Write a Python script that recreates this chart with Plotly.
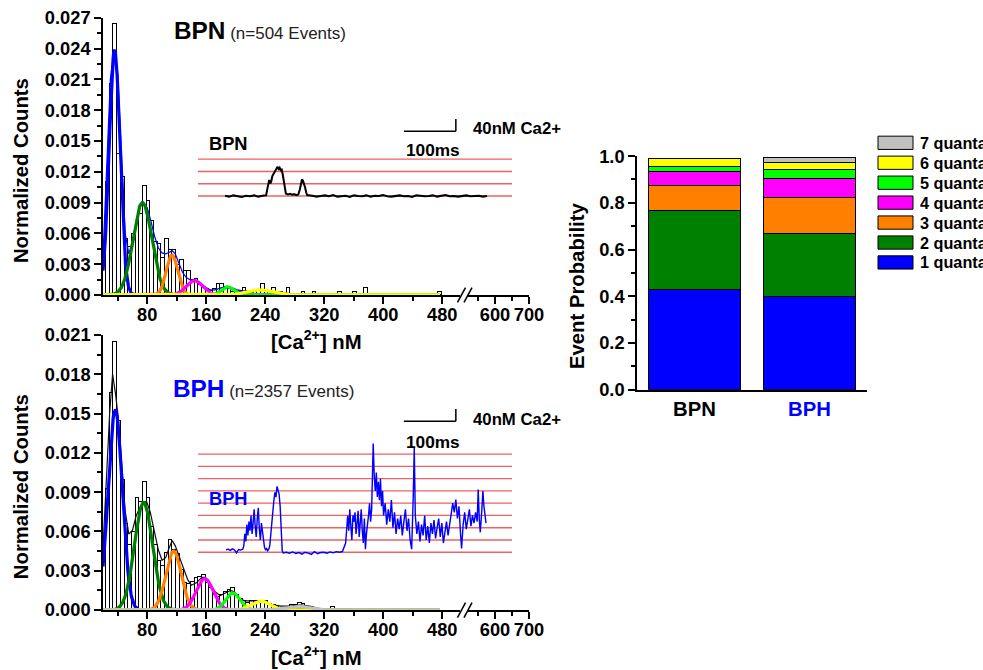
import numpy as np
import plotly.graph_objects as go

# Layout is designed on a 983 x 670 pixel grid; the figure itself is rendered a
# little larger (FIG_SCALE) and everything is placed in paper fractions.
W, H = 983, 670
FIG_SCALE = 1.0 / 0.985
FIG_W, FIG_H = round(W * FIG_SCALE), round(H * FIG_SCALE)
Y_STRETCH, Y_OFFSET = 1.0137, 10.3  # vertical grid correction for the page offset
FONT = "Liberation Sans, Arial, sans-serif"


def fx(x):
    """grid column -> paper x"""
    return x / W


def fy(y):
    """grid row -> paper y"""
    return 1 - (Y_STRETCH * y - Y_OFFSET) / H


def fs(size):
    """font / line size on the design grid -> rendered size"""
    return size * FIG_SCALE


# ---------------- amplitude histograms (normalized counts, 5 nM bins) ----------------
BIN_START = 21.0
BIN_WIDTH = 5.0

BPN_COUNTS = [
    0.0038, 0.0111, 0.0206, 0.0264, 0.0138, 0.0115, 0.0055, 0.0047, 0.0060, 0.0071,
    0.0079, 0.0107, 0.0092, 0.0073, 0.0052, 0.0050, 0.0037, 0.0055, 0.0044, 0.0044,
    0.0030, 0.0035, 0.0024, 0.0024, 0.0015, 0.0016, 0.0010, 0.0007, 0.0006, 0.0004,
    0.0006, 0.0011, 0.0011, 0.0008, 0.0006, 0.0003, 0.0004, 0.0003, 0.0007, 0.0003,
    0.0002, 0.0003, 0.0004, 0.0011, 0.0004, 0.0003, 0.0007, 0.0000, 0.0003, 0.0000,
    0.0007, 0.0000, 0.0000, 0.0000, 0.0003, 0.0000, 0.0000, 0.0003, 0.0000, 0.0000,
    0.0000, 0.0000, 0.0000, 0.0000, 0.0003, 0.0000, 0.0000, 0.0000, 0.0003, 0.0000,
    0.0000, 0.0007, 0.0000, 0.0000, 0.0000, 0.0000, 0.0000, 0.0000, 0.0000, 0.0000,
    0.0000, 0.0000, 0.0000, 0.0000, 0.0000, 0.0000, 0.0000, 0.0000, 0.0000, 0.0000,
    0.0000, 0.0003,
]

BPH_COUNTS = [
    0.0045, 0.0093, 0.0166, 0.0205, 0.0145, 0.0100, 0.0066, 0.0050, 0.0060, 0.0086,
    0.0083, 0.0098, 0.0086, 0.0064, 0.0050, 0.0038, 0.0034, 0.0044, 0.0054, 0.0046,
    0.0043, 0.0031, 0.0021, 0.0020, 0.0022, 0.0025, 0.0026, 0.0027, 0.0021, 0.0017,
    0.0012, 0.0010, 0.0012, 0.0014, 0.0016, 0.0017, 0.0012, 0.0009, 0.0007, 0.0006,
    0.0007, 0.0007, 0.0007, 0.0007, 0.0007, 0.0005, 0.0004, 0.0003, 0.0002, 0.0002,
    0.0003, 0.0004, 0.0004, 0.0006, 0.0005, 0.0003, 0.0003, 0.0002, 0.0001, 0.0001,
    0.0000, 0.0001, 0.0003, 0.0001, 0.0000, 0.0001, 0.0001, 0.0000, 0.0000, 0.0000,
    0.0000, 0.0000, 0.0001, 0.0000, 0.0000, 0.0000, 0.0000, 0.0000, 0.0000, 0.0001,
    0.0000, 0.0000, 0.0000, 0.0000, 0.0000, 0.0000, 0.0000, 0.0001,
]

# multi-Gaussian fit, one component per quantal level (amplitude, centre nM, sigma nM)
BPN_FIT_AMP = [0.0239, 0.0090, 0.0039, 0.0014, 0.0008, 0.0005]
BPN_FIT_MU = [35.7, 73.5, 113.5, 144.0, 189.0, 232.0]
BPN_FIT_SIGMA = [7.3, 12.8, 7.7, 11.0, 8.0, 17.0]

BPH_FIT_AMP = [0.0153, 0.0082, 0.0045, 0.0024, 0.0013, 0.00068, 0.0003]
BPH_FIT_MU = [36.6, 75.0, 115.7, 158.0, 196.0, 234.0, 285.0]
BPH_FIT_SIGMA = [9.5, 12.3, 10.5, 11.5, 9.5, 13.0, 16.0]

FIT_RANGE = (20.0, 477.0)

# overall fit envelopes
BPN_ENV_X = [20, 25, 30, 35, 40, 45, 50, 55, 60, 65, 70, 75, 80, 85, 90, 95, 100, 105,
             110, 114, 118, 123, 128, 133, 140, 146, 152, 158, 165, 172, 180, 188, 195,
             202, 210, 220, 232, 245, 260, 280, 300]
BPN_ENV_Y = [0.0038, 0.0125, 0.0210, 0.0239, 0.0215, 0.0135, 0.0060, 0.0040, 0.0052,
             0.0072, 0.0086, 0.0090, 0.0085, 0.0072, 0.0057, 0.0046, 0.0041, 0.0040,
             0.0042, 0.0043, 0.0040, 0.0031, 0.0022, 0.0017, 0.0014, 0.0014, 0.0012,
             0.0008, 0.0005, 0.0005, 0.0007, 0.0008, 0.0007, 0.0005, 0.0004, 0.0004,
             0.0005, 0.0004, 0.0002, 0.0001, 0.0000]

BPH_ENV_X = [20, 25, 29, 33, 37, 41, 45, 50, 55, 60, 65, 70, 75, 79, 84, 90, 95, 100,
             105, 110, 114, 118, 124, 130, 135, 140, 147, 154, 159, 165, 172, 179, 186,
             193, 198, 205, 212, 220, 230, 240, 250, 262, 275, 288, 300, 315, 330]
BPH_ENV_Y = [0.0047, 0.0100, 0.0150, 0.0180, 0.0165, 0.0145, 0.0112, 0.0076, 0.0058,
             0.0061, 0.0072, 0.0078, 0.0082, 0.0083, 0.0075, 0.0060, 0.0046, 0.0038,
             0.0040, 0.0048, 0.0053, 0.0049, 0.0040, 0.0030, 0.0023, 0.0019, 0.0021,
             0.0025, 0.0025, 0.0020, 0.0014, 0.0011, 0.0013, 0.0015, 0.0014, 0.0009,
             0.0007, 0.0007, 0.0007, 0.0006, 0.0004, 0.0003, 0.0003, 0.0004, 0.0003,
             0.0001, 0.0000]

# axis ticks (broken x axis: 20-505 nM, then 520-700 nM)
X_LOW_TICKS = [80, 160, 240, 320, 400, 480]
X_LOW_MINOR = [40, 120, 200, 280, 360, 440]
X_HIGH_TICKS = [600, 700]
X_HIGH_MINOR = [550, 650]
BPN_Y_TICKS = [0.000, 0.003, 0.006, 0.009, 0.012, 0.015, 0.018, 0.021, 0.024, 0.027]
BPH_Y_TICKS = [0.000, 0.003, 0.006, 0.009, 0.012, 0.015, 0.018, 0.021]

# ---------------- example Ca2+ traces (time ms, [Ca2+] above baseline nM) ----------------
BPN_TRACE = [
    (52, 1), (60, -2), (68, 2), (76, 0), (84, -3), (92, 1), (100, -1), (108, 2), (116, -2),
    (124, 1), (131, 2), (133, 20), (135, 45), (137, 52), (139, 40), (141, 48), (143, 65),
    (145, 72), (147, 78), (149, 85), (151, 90), (153, 95), (155, 88), (157, 92), (159, 84),
    (161, 86), (163, 70), (165, 50), (167, 30), (169, 8), (173, 5), (177, 7), (181, 4),
    (185, 6), (189, 3), (193, 5), (196, 22), (198, 45), (200, 54), (202, 50), (204, 40),
    (206, 28), (208, 12), (210, 3), (220, 1), (228, -2), (236, 0), (244, 2), (252, -1),
    (260, 3), (268, -2), (276, 0), (284, 1), (292, -3), (300, 2), (308, 0), (316, -1),
    (324, 2), (332, -2), (340, 1), (348, 0), (356, 3), (364, -1), (372, -2), (380, 1),
    (388, 2), (396, -1), (404, 0), (412, -3), (420, 2), (428, 1), (436, -1), (444, 0),
    (452, 2), (460, -2), (468, 1), (476, 3), (484, -1), (492, 0), (500, -2), (508, 1),
    (516, 2), (524, -1), (532, 0), (540, 1), (548, -2), (556, 0),
]

BPH_TRACE = [
    (54, 8), (58, 10), (62, 6), (66, 11), (70, 8), (74, -2), (78, 9), (82, 7), (86, 10),
    (88, 20), (90, 60), (92, 35), (94, 90), (96, 55), (98, 100), (100, 70), (102, 120),
    (104, 60), (106, 95), (108, 140), (110, 85), (112, 50), (114, 110), (116, 145),
    (118, 75), (120, 40), (122, 95), (124, 60), (126, 30), (128, 15), (130, 8), (132, 12),
    (134, 5), (136, 10), (138, 20), (140, 60), (142, 110), (144, 150), (146, 170),
    (148, 195), (150, 180), (152, 215), (154, 200), (156, 190), (158, 150), (160, 60),
    (162, 5), (164, -2), (170, 0), (176, -3), (182, 1), (188, -4), (194, -1), (200, -6),
    (206, 0), (212, -3), (218, -7), (224, 2), (230, -5), (236, -1), (242, 0), (248, -3),
    (254, 1), (260, -2), (266, 2), (272, 0), (278, 3), (284, 30), (286, 90), (288, 120),
    (290, 70), (292, 140), (294, 85), (296, 40), (298, 120), (300, 100), (302, 130),
    (304, 60), (306, 95), (308, 135), (310, 50), (312, 105), (314, 140), (316, 70),
    (318, 30), (320, 110), (322, 10), (324, 60), (326, 85), (328, 120), (330, 160),
    (332, 100), (334, 140), (337, 355), (339, 250), (341, 200), (343, 260), (345, 180),
    (347, 230), (349, 170), (351, 240), (353, 150), (355, 200), (357, 120), (360, 160),
    (363, 90), (366, 140), (369, 100), (372, 170), (375, 80), (378, 130), (381, 60),
    (384, 110), (387, 75), (390, 120), (393, 55), (396, 100), (399, 140), (402, 70),
    (405, 110), (408, 40), (411, 10), (414, 180), (416, 340), (418, 120), (421, 60),
    (424, 100), (427, 35), (430, 90), (433, 55), (436, 120), (439, 40), (442, 85),
    (445, 30), (448, 95), (451, 60), (454, 105), (457, 45), (460, 80), (463, 110),
    (466, 50), (469, 95), (472, 30), (475, 70), (478, 100), (481, 55), (484, 90),
    (487, 120), (490, 160), (493, 130), (496, 172), (499, 110), (502, 150), (505, 60),
    (507, 12), (510, 90), (513, 130), (516, 75), (519, 115), (522, 140), (525, 85),
    (528, 120), (531, 95), (534, 130), (537, 100), (539, 205), (541, 110), (543, 65),
    (546, 140), (548, 200), (550, 150), (552, 110), (554, 95),
]

BPN_LEVELS_NM = [0, 40, 80, 120]
BPH_LEVELS_NM = [0, 40, 80, 120, 160, 200, 240, 280, 320]
SCALE_T0_MS = 396
SCALE_MS = 100
SCALE_NM = 40
BPN_SCALE_Y_NM = 211
BPH_SCALE_Y_NM = 427

# ---------------- quantal event probabilities ----------------
GROUPS = ["BPN", "BPH"]
QUANTA = ["1 quanta", "2 quanta", "3 quanta", "4 quanta", "5 quanta", "6 quanta", "7 quanta"]
QUANTA_COLORS = ["#0000FF", "#008000", "#FF8000", "#FF00FF", "#00FF00", "#FFFF00", "#C0C0C0"]
BPN_PROB = [0.430, 0.337, 0.108, 0.061, 0.020, 0.034, 0.000]
BPH_PROB = [0.398, 0.271, 0.152, 0.082, 0.040, 0.029, 0.021]
PROB_TICKS = [0.0, 0.2, 0.4, 0.6, 0.8, 1.0]

# ======================================================================
fig = go.Figure()


def gaussian(x, a, mu, s):
    return a * np.exp(-((x - mu) ** 2) / (2 * s * s))


fit_x = np.linspace(FIT_RANGE[0], FIT_RANGE[1], 600)

# guide lines for the quantal levels, drawn first so the traces sit on top
LEVEL_COLOR = "rgba(232,45,45,0.75)"
for levels, xa, ya in ((BPN_LEVELS_NM, "x6", "y6"), (BPH_LEVELS_NM, "x7", "y7")):
    lx, ly = [], []
    for lv in levels:
        lx += [0, 604, None]
        ly += [lv, lv, None]
    fig.add_trace(go.Scatter(x=lx, y=ly, mode="lines", xaxis=xa, yaxis=ya,
                             line=dict(color=LEVEL_COLOR, width=fs(1.3)),
                             showlegend=False, hoverinfo="skip"))


def add_histogram(counts, env_x, env_y, env_color, amps, mus, sigmas, xa, ya, xa_hi):
    centers = BIN_START + BIN_WIDTH * np.arange(len(counts))
    fig.add_trace(go.Bar(
        x=centers, y=counts, width=BIN_WIDTH, xaxis=xa, yaxis=ya,
        marker=dict(color="white", line=dict(color="black", width=1)),
        showlegend=False, hoverinfo="skip"))
    fig.add_trace(go.Scatter(
        x=env_x, y=env_y, mode="lines", xaxis=xa, yaxis=ya,
        line=dict(color=env_color, width=fs(1.2)), showlegend=False, hoverinfo="skip"))
    for a, mu, s, c in zip(amps, mus, sigmas, QUANTA_COLORS):
        fig.add_trace(go.Scatter(
            x=fit_x, y=gaussian(fit_x, a, mu, s), mode="lines", xaxis=xa, yaxis=ya,
            line=dict(color=c, width=fs(3.2)), showlegend=False, hoverinfo="skip"))
    # the segment beyond the axis break holds no events; an empty trace keeps it drawn
    fig.add_trace(go.Scatter(x=[None], y=[None], mode="lines", xaxis=xa_hi, yaxis=ya,
                             showlegend=False, hoverinfo="skip"))


add_histogram(BPN_COUNTS, BPN_ENV_X, BPN_ENV_Y, "#0000FF",
              BPN_FIT_AMP, BPN_FIT_MU, BPN_FIT_SIGMA, "x", "y", "x2")
add_histogram(BPH_COUNTS, BPH_ENV_X, BPH_ENV_Y, "#111111",
              BPH_FIT_AMP, BPH_FIT_MU, BPH_FIT_SIGMA, "x3", "y3", "x4")

# example traces in the insets
bpn_t, bpn_v = zip(*BPN_TRACE)
bph_t, bph_v = zip(*BPH_TRACE)
fig.add_trace(go.Scatter(x=bpn_t, y=bpn_v, mode="lines", xaxis="x6", yaxis="y6",
                         line=dict(color="black", width=fs(2)), showlegend=False,
                         hoverinfo="skip"))
fig.add_trace(go.Scatter(x=bph_t, y=bph_v, mode="lines", xaxis="x7", yaxis="y7",
                         line=dict(color="#0000FF", width=fs(1.4)), showlegend=False,
                         hoverinfo="skip"))

# stacked probability bars
for i, name in enumerate(QUANTA):
    fig.add_trace(go.Bar(
        x=[0, 1], y=[BPN_PROB[i], BPH_PROB[i]], width=0.8, name=name,
        xaxis="x5", yaxis="y5",
        marker=dict(color=QUANTA_COLORS[i], line=dict(color="black", width=1)),
        showlegend=False, hoverinfo="skip"))

# ---------------- axes ----------------
tick_font = dict(family=FONT, size=fs(18), color="black", weight="bold")
line_kw = dict(showline=True, linecolor="black", linewidth=fs(1.5), showgrid=False,
               zeroline=False, ticks="outside", ticklen=round(fs(7)), tickwidth=fs(1.5),
               tickcolor="black", tickfont=tick_font)
minor_kw = dict(ticks="outside", ticklen=round(fs(4)), tickwidth=fs(1.5), tickcolor="black",
                showgrid=False)

X_LOW_DOM = [fx(103), fx(460)]
X_HIGH_DOM = [fx(468), fx(529)]
X_LOW_RANGE = [20, 504.1]
X_HIGH_RANGE = [520.6, 700]


def x_low(anchor):
    return dict(domain=X_LOW_DOM, range=X_LOW_RANGE, anchor=anchor,
                tickmode="array", tickvals=X_LOW_TICKS,
                ticktext=[str(v) for v in X_LOW_TICKS], ticklabelstandoff=-5,
                minor=dict(tickmode="array", tickvals=X_LOW_MINOR, **minor_kw),
                fixedrange=True, **line_kw)


def x_high(anchor):
    return dict(domain=X_HIGH_DOM, range=X_HIGH_RANGE, anchor=anchor,
                tickmode="array", tickvals=X_HIGH_TICKS,
                ticktext=[str(v) for v in X_HIGH_TICKS], ticklabelstandoff=-5,
                minor=dict(tickmode="array", tickvals=X_HIGH_MINOR, **minor_kw),
                fixedrange=True, **line_kw)


def y_hist(domain, ticks, anchor):
    return dict(domain=domain, range=[0, ticks[-1]], anchor=anchor,
                tickmode="array", tickvals=ticks,
                ticktext=["%.3f" % v for v in ticks],
                minor=dict(dtick=(ticks[1] - ticks[0]) / 2, **minor_kw),
                fixedrange=True, **line_kw)


hidden = dict(visible=False, showgrid=False, zeroline=False, fixedrange=True)

fig.update_layout(
    width=FIG_W, height=FIG_H, autosize=False, margin=dict(l=0, r=0, t=0, b=0, pad=0),
    plot_bgcolor="rgba(0,0,0,0)", paper_bgcolor="white",
    barmode="stack", showlegend=False,
    font=dict(family=FONT, color="black"),
    xaxis=x_low("y"),
    xaxis2=x_high("y"),
    yaxis=y_hist([fy(295), fy(17)], BPN_Y_TICKS, "x"),
    xaxis3=x_low("y3"),
    xaxis4=x_high("y3"),
    yaxis3=y_hist([fy(611), fy(335)], BPH_Y_TICKS, "x3"),
    xaxis5=dict(domain=[fx(637), fx(867)], range=[-0.5, 1.5], anchor="y5",
                showline=True, linecolor="black", linewidth=fs(1.5), showgrid=False,
                zeroline=False, ticks="", tickmode="array", tickvals=[0, 1],
                ticktext=["BPN", "<span style='color:#0000FF'>BPH</span>"],
                tickfont=dict(family=FONT, size=fs(20), color="black", weight="bold"),
                fixedrange=True),
    yaxis5=dict(domain=[fy(390), fy(155.7)], range=[0, 1.0], anchor="x5",
                tickmode="array", tickvals=PROB_TICKS,
                ticktext=["%.1f" % v for v in PROB_TICKS],
                minor=dict(dtick=0.1, **minor_kw), fixedrange=True, **line_kw),
    xaxis6=dict(domain=[fx(198), fx(512)], range=[0, 604], anchor="y6", **hidden),
    yaxis6=dict(domain=[fy(210), fy(110)], range=[-46.5, 278.7], anchor="x6", **hidden),
    xaxis7=dict(domain=[fx(198), fx(512)], range=[0, 604], anchor="y7", **hidden),
    yaxis7=dict(domain=[fy(565), fy(400)], range=[-39.0, 497.6], anchor="x7", **hidden),
)

# ---------------- shapes ----------------
shapes = []
# scale bars
for xr, yr, y0 in (("x6", "y6", BPN_SCALE_Y_NM), ("x7", "y7", BPH_SCALE_Y_NM)):
    t1 = SCALE_T0_MS + SCALE_MS
    shapes.append(dict(type="line", xref=xr, yref=yr, x0=SCALE_T0_MS, x1=t1, y0=y0, y1=y0,
                       line=dict(color="black", width=fs(1.5))))
    shapes.append(dict(type="line", xref=xr, yref=yr, x0=t1, x1=t1, y0=y0, y1=y0 + SCALE_NM,
                       line=dict(color="black", width=fs(1.5))))
# axis break marks
for base in (295, 611):
    for dx in (0, 6.5):
        shapes.append(dict(type="line", xref="paper", yref="paper",
                           x0=fx(457.5 + dx), y0=fy(base + 7.5),
                           x1=fx(465.5 + dx), y1=fy(base - 7.5),
                           line=dict(color="black", width=fs(1.5))))
# legend swatches
LEG_X0, LEG_X1, LEG_TOP, LEG_STEP, LEG_H = 878, 913, 135.7, 20, 13.3
for k in range(len(QUANTA)):
    idx = len(QUANTA) - 1 - k
    top = LEG_TOP + k * LEG_STEP
    shapes.append(dict(type="rect", xref="paper", yref="paper",
                       x0=fx(LEG_X0), x1=fx(LEG_X1), y0=fy(top + LEG_H), y1=fy(top),
                       fillcolor=QUANTA_COLORS[idx], line=dict(color="black", width=1)))
fig.update_layout(shapes=shapes)

# ---------------- annotations ----------------
ann = []


def text(x, y, s, size, color="black", bold=True, xanchor="left", angle=0):
    ann.append(dict(x=fx(x), y=fy(y), xref="paper", yref="paper", text=s,
                    showarrow=False, xanchor=xanchor, yanchor="middle",
                    textangle=angle,
                    font=dict(family=FONT, size=fs(size), color=color,
                              weight="bold" if bold else "normal")))


small = "font-size:%dpx;font-weight:normal;color:#222" % round(fs(17))
text(21.7, 170, "Normalized Counts", 20, xanchor="center", angle=-90)
text(21.7, 487, "Normalized Counts", 20, xanchor="center", angle=-90)
text(577, 286, "Event Probability", 20, xanchor="center", angle=-90)
text(316, 340, "[Ca<sup>2+</sup>] nM", 20, xanchor="center")
text(316, 657, "[Ca<sup>2+</sup>] nM", 20, xanchor="center")

text(171.7, 30, "BPN<span style='%s'> (n=504 Events)</span>" % small, 24)
text(170.7, 389, "<span style='color:#0000FF'>BPH</span><span style='%s'> (n=2357 Events)</span>" % small, 24)

text(206.7, 143.3, "BPN", 18)
text(206.7, 499, "BPH", 18, color="#0000FF")

for y_cal, y_ms in ((128.3, 150), (420, 442.7)):
    text(471, y_cal, "40nM Ca2+", 16.5)
    text(404, y_ms, "100ms", 17)

for k in range(len(QUANTA)):
    idx = len(QUANTA) - 1 - k
    text(918, LEG_TOP + k * LEG_STEP + LEG_H / 2, QUANTA[idx], 16)

fig.update_layout(annotations=ann)

fig.write_html("out.html", include_plotlyjs=True, config={"displayModeBar": False})
